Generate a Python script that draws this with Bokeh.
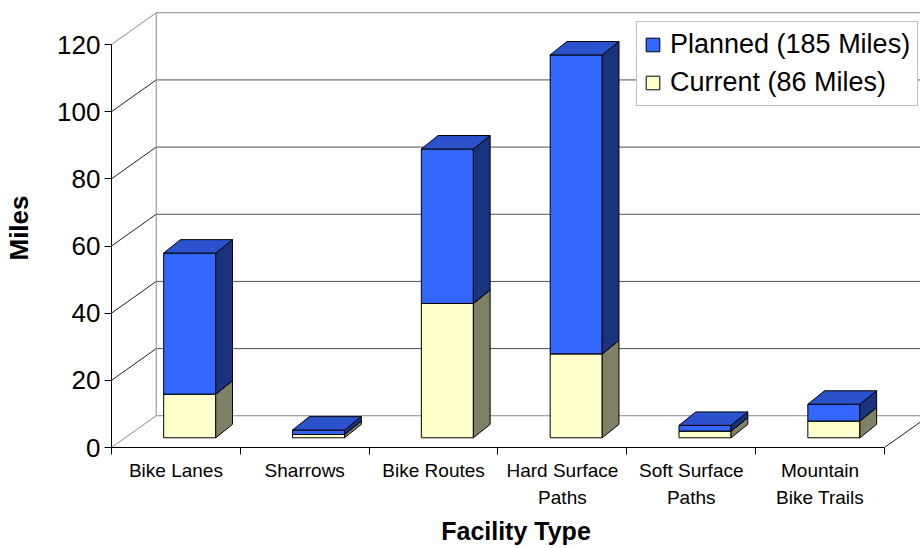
import numpy as np
from bokeh.plotting import figure
from bokeh.models import Range1d, FixedTicker, Legend, LegendItem
from bokeh.embed import file_html
from bokeh.resources import INLINE

# Facility mileage (stacked: current at the bottom, planned on top)
categories = ["Bike Lanes", "Sharrows", "Bike Routes", "Hard Surface\nPaths",
              "Soft Surface\nPaths", "Mountain\nBike Trails"]
current = [13, 1, 40, 25, 2, 5]
planned = [42, 1.3, 46, 89, 1.7, 5]
y_ticks = [0, 20, 40, 60, 80, 100, 120]
legend_labels = ["Planned (185 Miles)", "Current (86 Miles)"]

FONT = "Liberation Sans"

# Oblique projection of the chart box, in data units
WALL_DX, WALL_DY = 0.347, 9.45      # depth of the walls / floor
BAR_X0, BAR_Y0 = 0.107, 2.89        # where the bar fronts sit inside the depth
BAR_DX, BAR_DY = 0.13, 4.0          # depth of each bar
BAR_W = 0.404
Y_MAX = 120

PLANNED = dict(front="#3366FF", side="#1A337F", top="#2952CC")
CURRENT = dict(front="#FFFFCC", side="#808066", top="#CCCCA3")

p = figure(width=920, height=548, output_backend="svg", toolbar_location=None,
           x_range=Range1d(0, 6.2795), y_range=Range1d(0, 130.72),
           min_border_left=111, min_border_right=0, min_border_top=8,
           min_border_bottom=101)
p.outline_line_color = None
p.xgrid.visible = False
p.ygrid.visible = False
p.background_fill_color = "white"
p.border_fill_color = "white"

n = len(categories)
x_end = p.x_range.end

# back wall gridlines and side wall gridlines
yt = np.array(y_ticks, dtype=float)
inner = yt[(yt > 0) & (yt < Y_MAX)]
p.segment(x0=[WALL_DX] * len(inner), y0=inner + WALL_DY,
          x1=[x_end] * len(inner), y1=inner + WALL_DY,
          line_color="#505050", line_width=1)
p.segment(x0=[0] * len(inner), y0=inner, x1=[WALL_DX] * len(inner), y1=inner + WALL_DY,
          line_color="#202020", line_width=1)
# wall / floor borders
edge_y = np.array([0.0, Y_MAX])
p.segment(x0=[WALL_DX] * 2, y0=edge_y + WALL_DY, x1=[x_end] * 2, y1=edge_y + WALL_DY,
          line_color="#8a8a8a", line_width=1)
p.segment(x0=[0] * 2, y0=edge_y, x1=[WALL_DX] * 2, y1=edge_y + WALL_DY,
          line_color="#8a8a8a", line_width=1)
p.segment(x0=[WALL_DX], y0=[WALL_DY], x1=[WALL_DX], y1=[Y_MAX + WALL_DY],
          line_color="#8a8a8a", line_width=1)
p.segment(x0=[n], y0=[0], x1=[n + WALL_DX], y1=[WALL_DY],
          line_color="#202020", line_width=1)

# bars
idx = np.arange(n)
xl = idx + 0.5 - BAR_W / 2 + BAR_X0
xr = xl + BAR_W
cur = np.array(current, dtype=float)
pla = np.array(planned, dtype=float)
seg_bottoms = [BAR_Y0 + 0 * cur, BAR_Y0 + cur]
seg_tops = [BAR_Y0 + cur, BAR_Y0 + cur + pla]
front_renderers = []
for (b, t, col) in zip(seg_bottoms, seg_tops, [CURRENT, PLANNED]):
    r = p.quad(left=xl, right=xr, bottom=b, top=t, fill_color=col["front"],
               line_color="black", line_width=1)
    front_renderers.append(r)
    side_xs = [[a, a + BAR_DX, a + BAR_DX, a] for a in xr]
    side_ys = [[y0, y0 + BAR_DY, y1 + BAR_DY, y1] for y0, y1 in zip(b, t)]
    p.patches(side_xs, side_ys, fill_color=col["side"], line_color="black", line_width=1)
    top_xs = [[a, a + BAR_DX, c + BAR_DX, c] for a, c in zip(xl, xr)]
    top_ys = [[y1, y1 + BAR_DY, y1 + BAR_DY, y1] for y1 in t]
    p.patches(top_xs, top_ys, fill_color=col["top"], line_color="black", line_width=1)

# y axis
yax = p.yaxis[0]
yax.ticker = FixedTicker(ticks=y_ticks, minor_ticks=[])
yax.bounds = (0, Y_MAX)
yax.axis_line_color = "black"
yax.major_tick_in = 0
yax.major_tick_out = 7
yax.major_tick_line_color = "black"
yax.minor_tick_line_color = None
yax.major_label_standoff = 4
yax.major_label_text_font = FONT
yax.major_label_text_font_size = "26px"
yax.major_label_text_color = "black"
yax.axis_label = "Miles"
yax.axis_label_text_font = FONT
yax.axis_label_text_font_size = "26px"
yax.axis_label_text_font_style = "bold"
yax.axis_label_text_color = "black"
yax.axis_label_standoff = 20

# x axis: labels at the category centres, tick marks at the boundaries
xax = p.xaxis[0]
centers = [i + 0.5 for i in range(n)]
xax.ticker = FixedTicker(ticks=centers, minor_ticks=list(range(n + 1)))
xax.major_label_overrides = {c: lab for c, lab in zip(centers, categories)}
xax.bounds = (0, n)
xax.axis_line_color = "black"
xax.major_tick_line_color = None
xax.minor_tick_line_color = "black"
xax.minor_tick_in = 0
xax.minor_tick_out = 7
xax.major_tick_out = 7
xax.major_label_standoff = 5
xax.major_label_text_font = FONT
xax.major_label_text_font_size = "19px"
xax.major_label_text_line_height = 1.3
xax.major_label_text_color = "black"
xax.axis_label = "Facility Type"
xax.axis_label_text_font = FONT
xax.axis_label_text_font_size = "25px"
xax.axis_label_text_font_style = "bold"
xax.axis_label_text_color = "black"
xax.axis_label_standoff = 6

legend = Legend(items=[LegendItem(label=legend_labels[0], renderers=[front_renderers[1]]),
                       LegendItem(label=legend_labels[1], renderers=[front_renderers[0]])],
                location=(525, 341), orientation="vertical",
                glyph_width=17, glyph_height=17, label_standoff=9,
                padding=7, spacing=7, margin=0,
                label_text_font=FONT, label_text_font_size="27px",
                label_text_color="black",
                border_line_color="#808080", border_line_width=1,
                background_fill_color="white", background_fill_alpha=1)
p.add_layout(legend)

open("out.html", "w").write(file_html(p, INLINE))
